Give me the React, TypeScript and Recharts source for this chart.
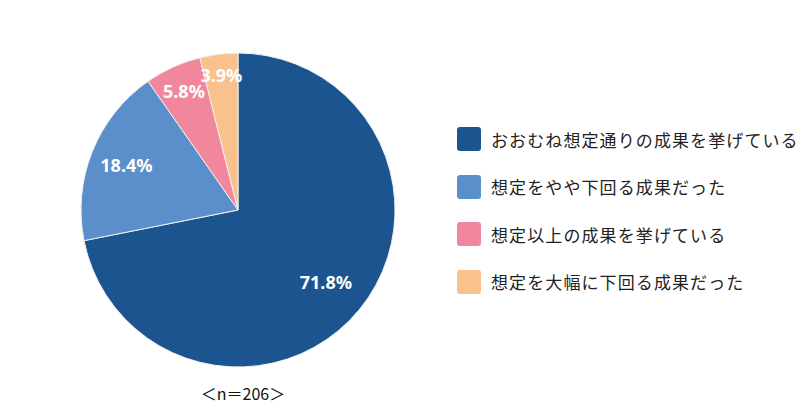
import React from 'react';
import { PieChart, Pie, Cell, Legend, Customized } from 'recharts';

const categories = [
  'おおむね想定通りの成果を挙げている',
  '想定をやや下回る成果だった',
  '想定以上の成果を挙げている',
  '想定を大幅に下回る成果だった',
];
const values = [71.8, 18.4, 5.8, 3.9];
const colors = ['#1B548F', '#5B8FCB', '#F0879C', '#F9C28D'];
const sampleLabel = '＜n＝206＞';

const data = categories.map((name, i) => ({ name, value: values[i] }));

const RADIAN = Math.PI / 180;
const LABEL_SIZE = 18;

const estimateWidth = (s: string) => {
  let w = 0;
  for (const ch of s) {
    if (ch === '.') w += 0.29;
    else if (ch === '%') w += 0.87;
    else w += 0.572;
  }
  return w * LABEL_SIZE;
};

const renderLabel = (props: any) => {
  const { cx, cy, midAngle, outerRadius, value, percent } = props;
  const text = `${Number(value).toFixed(1)}%`;
  const hw = estimateWidth(text) / 2;
  const hh = 10;
  const a = midAngle * RADIAN;
  const ext = hw * Math.abs(Math.cos(a)) + hh * Math.abs(Math.sin(a));
  const pad = percent > 0.5 ? 17 : 9;
  const r = outerRadius - pad - ext;
  const x = cx + r * Math.cos(a);
  const y = cy - r * Math.sin(a);
  return (
    <text
      x={x}
      y={y}
      fill="#ffffff"
      textAnchor="middle"
      dominantBaseline="central"
      fontFamily="'Noto Sans', sans-serif"
      fontWeight="bold"
      fontSize={LABEL_SIZE}
    >
      {text}
    </text>
  );
};

const renderLegend = () => (
  <div style={{ fontFamily: "'Noto Sans CJK JP', sans-serif" }}>
    {categories.map((name, i) => (
      <div
        key={name}
        style={{ display: 'flex', alignItems: 'center', height: 24, marginBottom: i < categories.length - 1 ? 23.6 : 0 }}
      >
        <div
          style={{
            width: 24,
            height: 24,
            borderRadius: 3,
            background: colors[i],
            marginRight: 10,
            flexShrink: 0,
          }}
        />
        <span style={{ fontSize: 17, letterSpacing: 1.1, color: '#222', whiteSpace: 'nowrap' }}>{name}</span>
      </div>
    ))}
  </div>
);

const SampleText = () => (
  <text
    x={243}
    y={393}
    textAnchor="middle"
    dominantBaseline="central"
    fontFamily="'Noto Sans CJK JP', sans-serif"
    fontSize={16}
    fill="#111"
  >
    {sampleLabel}
  </text>
);

export default function App() {
  return (
    <div style={{ position: 'fixed', left: 0, top: 0, width: 800, height: 420, background: '#fff' }}>
      <PieChart width={800} height={420} margin={{ top: 0, right: 0, bottom: 0, left: 0 }}>
        <Pie
          data={data}
          dataKey="value"
          nameKey="name"
          cx={238}
          cy={210}
          outerRadius={157}
          startAngle={90}
          endAngle={-270}
          stroke="#f0f0f0"
          strokeWidth={1}
          label={renderLabel}
          labelLine={false}
          isAnimationActive={false}
        >
          {data.map((d, i) => (
            <Cell key={d.name} fill={colors[i]} />
          ))}
        </Pie>
        <Legend
          layout="vertical"
          content={renderLegend}
          wrapperStyle={{ position: 'absolute', left: 457, top: 127, width: 340 }}
        />
        <Customized component={SampleText} />
      </PieChart>
    </div>
  );
}
